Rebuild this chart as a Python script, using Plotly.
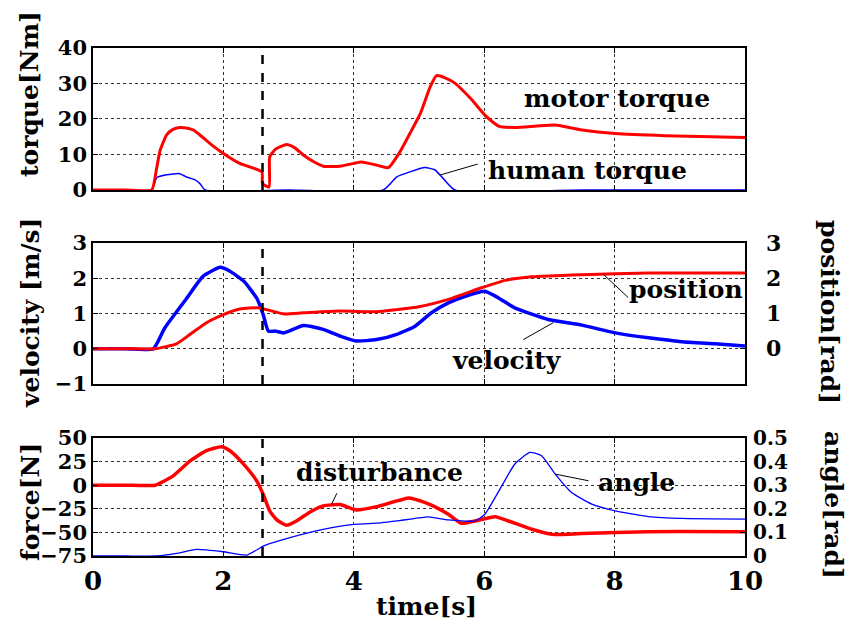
import plotly.graph_objects as go

# ---- measured signals -------------------------------------------------------
motor_t = [0, 0.50, 0.90, 0.97, 1.03, 1.13, 1.22, 1.33, 1.45, 1.54, 1.64, 1.80, 2.00, 2.25,
           2.59, 2.60, 2.70, 2.71, 2.80, 2.97, 3.10, 3.23, 3.40, 3.53, 3.79, 4.00, 4.12,
           4.35, 4.53, 4.70, 4.86, 5.02, 5.17, 5.27, 5.40, 5.55, 5.81, 6.01, 6.22, 6.47,
           6.80, 7.09, 7.50, 8.01, 8.77, 10.0]
motor_torque = [0, 0, 0, 5.5, 11.2, 15.5, 17.0, 17.6, 17.4, 16.9, 15.5, 13.0, 10.3, 7.5,
                5.1, 1.8, 0.85, 9.3, 11.5, 12.8, 11.8, 9.8, 7.8, 6.7, 6.7, 7.5, 7.9,
                7.0, 6.3, 10.5, 15.9, 21.5, 29.0, 32.2, 31.6, 30.1, 25.4, 21.1, 18.0, 17.6,
                18.0, 18.3, 16.9, 15.9, 15.3, 14.8]

human_t = [0, 0.50, 0.90, 0.98, 1.13, 1.33, 1.43, 1.56, 1.64, 1.72, 3.00, 4.45, 4.66,
           4.86, 5.09, 5.24, 5.35, 5.55, 7.50, 10.0]
human_torque = [0, 0, 0, 3.5, 4.3, 4.6, 3.7, 2.9, 1.8, 0, 0, 0, 3.7, 5.1, 6.3, 5.7,
                3.7, 0, 0, 0]

vel_t = [0, 0.50, 0.925, 1.10, 1.44, 1.69, 1.95, 2.10, 2.31, 2.51, 2.61, 2.69, 2.80,
         2.92, 3.23, 3.53, 3.79, 4.04, 4.35, 4.66, 4.94, 5.19, 5.45, 5.71, 6.01, 6.22,
         6.47, 6.98, 7.50, 8.01, 8.52, 9.03, 9.54, 10.0]
velocity = [0, 0, 0, 0.59, 1.44, 2.06, 2.31, 2.20, 1.92, 1.44, 0.97, 0.50, 0.50, 0.45,
            0.66, 0.55, 0.36, 0.22, 0.26, 0.41, 0.64, 1.02, 1.30, 1.49, 1.63, 1.44, 1.16,
            0.83, 0.67, 0.45, 0.31, 0.20, 0.14, 0.08]

pos_t = [0, 0.50, 0.95, 1.28, 1.49, 1.74, 2.00, 2.25, 2.54, 2.66, 2.92, 3.23, 3.79,
         4.35, 4.66, 5.00, 5.45, 5.96, 6.32, 6.73, 7.50, 8.52, 10.0]
position = [0, 0, 0, 0.14, 0.41, 0.74, 0.97, 1.13, 1.16, 1.11, 0.99, 1.02, 1.07, 1.05,
            1.11, 1.19, 1.40, 1.73, 1.94, 2.04, 2.10, 2.15, 2.15]

dist_t = [0, 0.50, 0.95, 1.23, 1.49, 1.74, 1.97, 2.10, 2.31, 2.51, 2.61, 2.71, 2.82,
          2.97, 3.12, 3.33, 3.53, 3.79, 4.04, 4.35, 4.85, 5.02, 5.19, 5.45, 5.65, 5.86,
          6.17, 6.37, 6.73, 7.04, 7.50, 8.52, 10.0]
disturbance = [0, 0, 0, 9.9, 25.8, 36.5, 40.7, 36.5, 22.3, 4.6, -9.6, -27.3, -36.8,
               -42.5, -37.9, -28.3, -22.0, -20.5, -26.2, -22.7, -13.5, -16.6, -21.2,
               -30.8, -40.4, -37.9, -33.3, -37.9, -46.7, -52.1, -51.3, -49.2, -49.2]

angle_t = [0, 0.50, 0.98, 1.28, 1.59, 2.00, 2.36, 2.61, 2.71, 3.02, 3.53, 3.94, 4.35,
           4.94, 5.14, 5.45, 5.86, 6.01, 6.27, 6.47, 6.70, 6.88, 7.09, 7.34, 7.65, 8.01,
           8.52, 9.03, 10.0]
angle = [0, 0, 0, 0.011, 0.028, 0.018, 0.004, 0.042, 0.052, 0.078, 0.113, 0.132, 0.139,
         0.159, 0.166, 0.153, 0.149, 0.177, 0.297, 0.390, 0.439, 0.425, 0.347, 0.269,
         0.220, 0.191, 0.167, 0.159, 0.156]

switch_time = 2.6  # instant of the switch, marked by a dashed line in every panel

x_ticks = [0, 2, 4, 6, 8, 10]
torque_ticks = [0, 10, 20, 30, 40]
vel_ticks = [-1, 0, 1, 2, 3]
pos_ticks = [0, 1, 2, 3]
force_ticks = [50, 25, 0, -25, -50, -75]
angle_ticks = [0, 0.1, 0.2, 0.3, 0.4, 0.5]

# ---- styling ----------------------------------------------------------------
RED = "#ff0000"
BLUE = "#0000ff"
SERIF = "DejaVu Serif"
SMOOTH = dict(shape="spline", smoothing=0.5)

fig = go.Figure()

fig.add_trace(go.Scatter(x=human_t, y=human_torque, mode="lines",
                         line=dict(color=BLUE, width=1.5, **SMOOTH), xaxis="x", yaxis="y"))
fig.add_trace(go.Scatter(x=motor_t, y=motor_torque, mode="lines",
                         line=dict(color=RED, width=3, **SMOOTH), xaxis="x", yaxis="y"))

fig.add_trace(go.Scatter(x=vel_t, y=velocity, mode="lines",
                         line=dict(color=BLUE, width=3.5, **SMOOTH),
                         xaxis="x2", yaxis="y2"))
fig.add_trace(go.Scatter(x=pos_t, y=position, mode="lines",
                         line=dict(color=RED, width=3, **SMOOTH),
                         xaxis="x2", yaxis="y4"))

fig.add_trace(go.Scatter(x=angle_t, y=angle, mode="lines",
                         line=dict(color=BLUE, width=1.3, **SMOOTH),
                         xaxis="x3", yaxis="y5"))
fig.add_trace(go.Scatter(x=dist_t, y=disturbance, mode="lines",
                         line=dict(color=RED, width=3.5, **SMOOTH),
                         xaxis="x3", yaxis="y3"))

tick_font = dict(family=SERIF, size=21, color="black", weight="bold")
grid = dict(showgrid=True, gridcolor="#333333", griddash="dot", gridwidth=1,
            zeroline=False, showline=True, linecolor="black", linewidth=1.5,
            mirror="ticks", ticks="inside", ticklen=5, tickcolor="black")

dom_top = [0.7205, 1.0]
dom_mid = [0.3386, 0.6161]
dom_bot = [0.0, 0.2323]

for name, anchor, dom, show in [("xaxis", "y", dom_top, False),
                                ("xaxis2", "y2", dom_mid, False),
                                ("xaxis3", "y3", dom_bot, True)]:
    fig.layout[name] = dict(range=[0, 10], tickvals=x_ticks, anchor=anchor,
                            showticklabels=show, domain=[0, 1],
                            tickfont=dict(family=SERIF, size=26, color="black", weight="bold"),
                            ticklabelstandoff=1, **grid)

fig.update_layout(
    yaxis=dict(domain=dom_top, range=[0, 40], tickvals=torque_ticks, anchor="x",
               tickfont=tick_font, **grid),
    yaxis2=dict(domain=dom_mid, range=[-1, 3], tickvals=vel_ticks, anchor="x2",
                tickfont=tick_font, **grid),
    yaxis3=dict(domain=dom_bot, range=[-75, 50], tickvals=force_ticks, anchor="x3",
                tickfont=tick_font, **grid),
    yaxis4=dict(overlaying="y2", side="right", range=[-1, 3], tickvals=pos_ticks,
                anchor="x2", showgrid=False, zeroline=False, ticks="",
                tickfont=dict(family=SERIF, size=22, color="black", weight="bold"),
                ticklabelstandoff=20),
    yaxis5=dict(overlaying="y3", side="right", range=[0, 0.5], tickvals=angle_ticks,
                anchor="x3", showgrid=False, zeroline=False, ticks="",
                tickformat=".1~f",
                tickfont=dict(family=SERIF, size=20, color="black", weight="bold"),
                ticklabelstandoff=7),
)

# dashed marker at the switching instant
for xr, yr in [("x", "y"), ("x2", "y2"), ("x3", "y3")]:
    fig.add_shape(type="line", xref=xr, yref=f"{yr} domain", x0=switch_time, x1=switch_time,
                  y0=0, y1=1, line=dict(color="black", width=2.5, dash="dash"))

# curve labels with leader lines
label_font = dict(family=SERIF, size=25, color="black", weight="bold")
labels = [
    ("motor torque", "x", "y", 8.04, 25.9),
    ("human torque", "x", "y", 7.59, 5.6),
    ("position", "x2", "y2", 9.10, 1.68),
    ("velocity", "x2", "y2", 6.35, -0.34),
    ("disturbance", "x3", "y3", 4.39, 13.4),
    ("angle", "x3", "y3", 8.34, 2.9),
]
for text, xr, yr, x, y in labels:
    fig.add_annotation(text=text, xref=xr, yref=yr, x=x, y=y, showarrow=False,
                       font=label_font)

leaders = [
    ("x", "y", 5.32, 4.2, 5.90, 7.3),
    ("x2", "y2", 7.83, 2.11, 8.21, 1.45),
    ("x2", "y2", 7.06, 0.74, 6.60, 0.26),
    ("x3", "y3", 3.66, -20.1, 3.74, -8.5),
    ("x3", "y3", 7.09, 11.7, 7.60, 4.7),
]
for xr, yr, x0, y0, x1, y1 in leaders:
    fig.add_shape(type="line", xref=xr, yref=yr, x0=x0, y0=y0, x1=x1, y1=y1,
                  line=dict(color="black", width=1))

# axis titles
title_font = dict(family=SERIF, size=25, color="black", weight="bold")
W, H, L, B, PW, PH = 855, 637, 93, 81, 652, 508


def px(x, y):
    return (x - L) / PW, (H - B - y) / PH


for text, x, y, ang in [("torque[Nm]", 30, 94, -90),
                        ("velocity [m/s]", 30, 313, -90),
                        ("force[N]", 30, 502, -90),
                        ("position[rad]", 830, 312, 90),
                        ("angle[rad]", 834, 505, 90),
                        ("time[s]", 426, 606, 0)]:
    ax, ay = px(x, y)
    fig.add_annotation(text=text, xref="paper", yref="paper", x=ax, y=ay,
                       showarrow=False, textangle=ang, font=title_font,
                       xanchor="center", yanchor="middle")

fig.update_layout(
    width=W, height=H,
    margin=dict(l=L, r=W - L - PW, t=H - B - PH, b=B),
    paper_bgcolor="white", plot_bgcolor="white",
    showlegend=False,
)

fig.write_html("out.html")
